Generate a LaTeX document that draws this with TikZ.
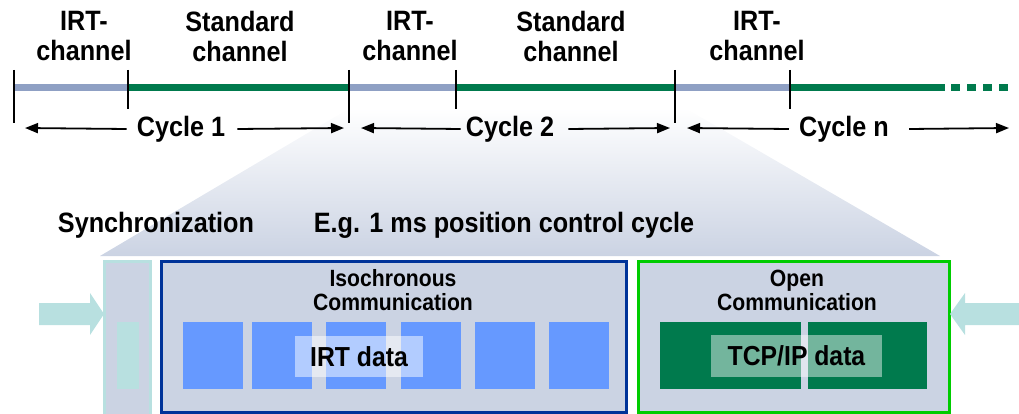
\documentclass[tikz,border=0pt]{standalone}
\usepackage{fontspec}
\setmainfont{Liberation Sans}
\newfontfamily\tallfont[FakeStretch=0.9]{Liberation Sans}
\usetikzlibrary{arrows.meta}
\definecolor{irtc}{HTML}{8FA0C4}
\definecolor{stdc}{HTML}{007A4D}
\definecolor{panel}{HTML}{CBD3E3}
\definecolor{sq}{HTML}{6699FF}
\definecolor{isob}{HTML}{003399}
\definecolor{openb}{HTML}{00CC00}
\definecolor{cyanish}{HTML}{B8E0E0}
\tikzset{
  lbl/.style={font=\tallfont\bfseries\fontsize{28}{30}\selectfont, align=center, inner sep=0pt},
  ttl/.style={font=\tallfont\bfseries\fontsize{23.5}{24}\selectfont, align=center, inner sep=0pt},
  tick/.style={line width=2.5pt, black},
  cyc/.style={line width=1.8pt, -{Triangle[length=13pt,width=10pt]}},
  chan/.style={line width=7pt},
  sqbox/.style={fill=sq, draw=none},
  gbox/.style={fill=stdc, draw=none},
  datalbl/.style={fill=white, fill opacity=0.5, text opacity=1, inner sep=0pt, font=\tallfont\bfseries\fontsize{27.5}{30}\selectfont},
  blockarrow/.style={fill=cyanish, draw=none}
}
\begin{document}
\begin{tikzpicture}[x=1pt,y=-1pt]
\useasboundingbox (0,0) rectangle (1019,414);
% zoom trapezoid
\shade[top color=white, bottom color=panel] (350,108) -- (685,108) -- (940,256) -- (100,256) -- cycle;
% channel line
\draw[chan, irtc] (14,88) -- (128,88);
\draw[chan, stdc] (128,88) -- (349,88);
\draw[chan, irtc] (349,88) -- (456,88);
\draw[chan, stdc] (456,88) -- (675,88);
\draw[chan, irtc] (675,88) -- (790,88);
\draw[chan, stdc] (790,88) -- (945,88);
\draw[chan, stdc, dash pattern=on 9pt off 7pt] (951,88) -- (1012,88);
% ticks
\draw[tick] (14,70) -- (14,123);
\draw[tick] (128,70) -- (128,109);
\draw[tick] (349,70) -- (349,123);
\draw[tick] (456,70) -- (456,109);
\draw[tick] (675,70) -- (675,123);
\draw[tick] (790,70) -- (790,109);
% channel labels
\node[lbl] (irt1) at (84,36) {IRT-\\channel};
\node[lbl] (std1) at (240,36) {Standard\\channel};
\node[lbl] (irt2) at (410,36) {IRT-\\channel};
\node[lbl] (std2) at (571,36) {Standard\\channel};
\node[lbl] (irt3) at (757,36) {IRT-\\channel};
% cycles
\node[lbl] (cy1) at (181,129) {Cycle 1};
\node[lbl] (cy2) at (510,129) {Cycle 2};
\node[lbl] (cyn) at (844,129) {Cycle n};
\coordinate (c1l) at (25,128); \coordinate (c1r) at (344,128);
\coordinate (c2l) at (361,128); \coordinate (c2r) at (670,128);
\coordinate (cnl) at (687,128); \coordinate (cnr) at (1009,128);
\draw[cyc] (cy1.west) ++(-10,0) -- (c1l);
\draw[cyc] (cy1.east) ++(12,0) -- (c1r);
\draw[cyc] (cy2.west) ++(-5,0) -- (c2l);
\draw[cyc] (cy2.east) ++(14,0) -- (c2r);
\draw[cyc] (cyn.west) ++(-10,0) -- (cnl);
\draw[cyc] (cyn.east) ++(20,0) -- (cnr);
% headings
\node[lbl] (sync) at (156,225) {Synchronization};
\node[lbl] (eg) at (504,225) {E.g. 1 ms position control cycle};
% sync box
\draw[fill=panel, draw=cyanish, line width=3pt] (104.5,261.5) rectangle (150.5,416);
\fill[cyanish] (117,322) rectangle (139,389) coordinate (syncin);
% iso box
\draw[fill=panel, draw=isob, line width=3pt] (161.5,261.5) rectangle (626,412);
\node[ttl] (isot) at (393,290) {Isochronous\\Communication};
\foreach \x/\n in {183/1,252/2,326/3,401/4,475/5,549/6}{
  \fill[sqbox] (\x,322) rectangle ++(60,67);
}
\node[datalbl, minimum width=128pt, minimum height=41pt] (irtd) at (359,356.5) {IRT data};
% open box
\draw[fill=panel, draw=openb, line width=3pt] (638.5,261.5) rectangle (949,412);
\node[ttl] (opent) at (797,290) {Open\\Communication};
\fill[gbox] (660,322) rectangle (801,389);
\fill[gbox] (808,322) rectangle (927,389);
\node[datalbl, minimum width=171pt, minimum height=42pt, fill opacity=0.45] (tcpd) at (796.5,356) {TCP/IP data};
% block arrows
\fill[blockarrow] (39,303) -- (90,303) -- (90,293) -- (104,314) -- (90,335) -- (90,325) -- (39,325) -- cycle;
\fill[blockarrow] (1019,303) -- (965,303) -- (965,293) -- (950,314) -- (965,335) -- (965,325) -- (1019,325) -- cycle;
\end{tikzpicture}
\end{document}
